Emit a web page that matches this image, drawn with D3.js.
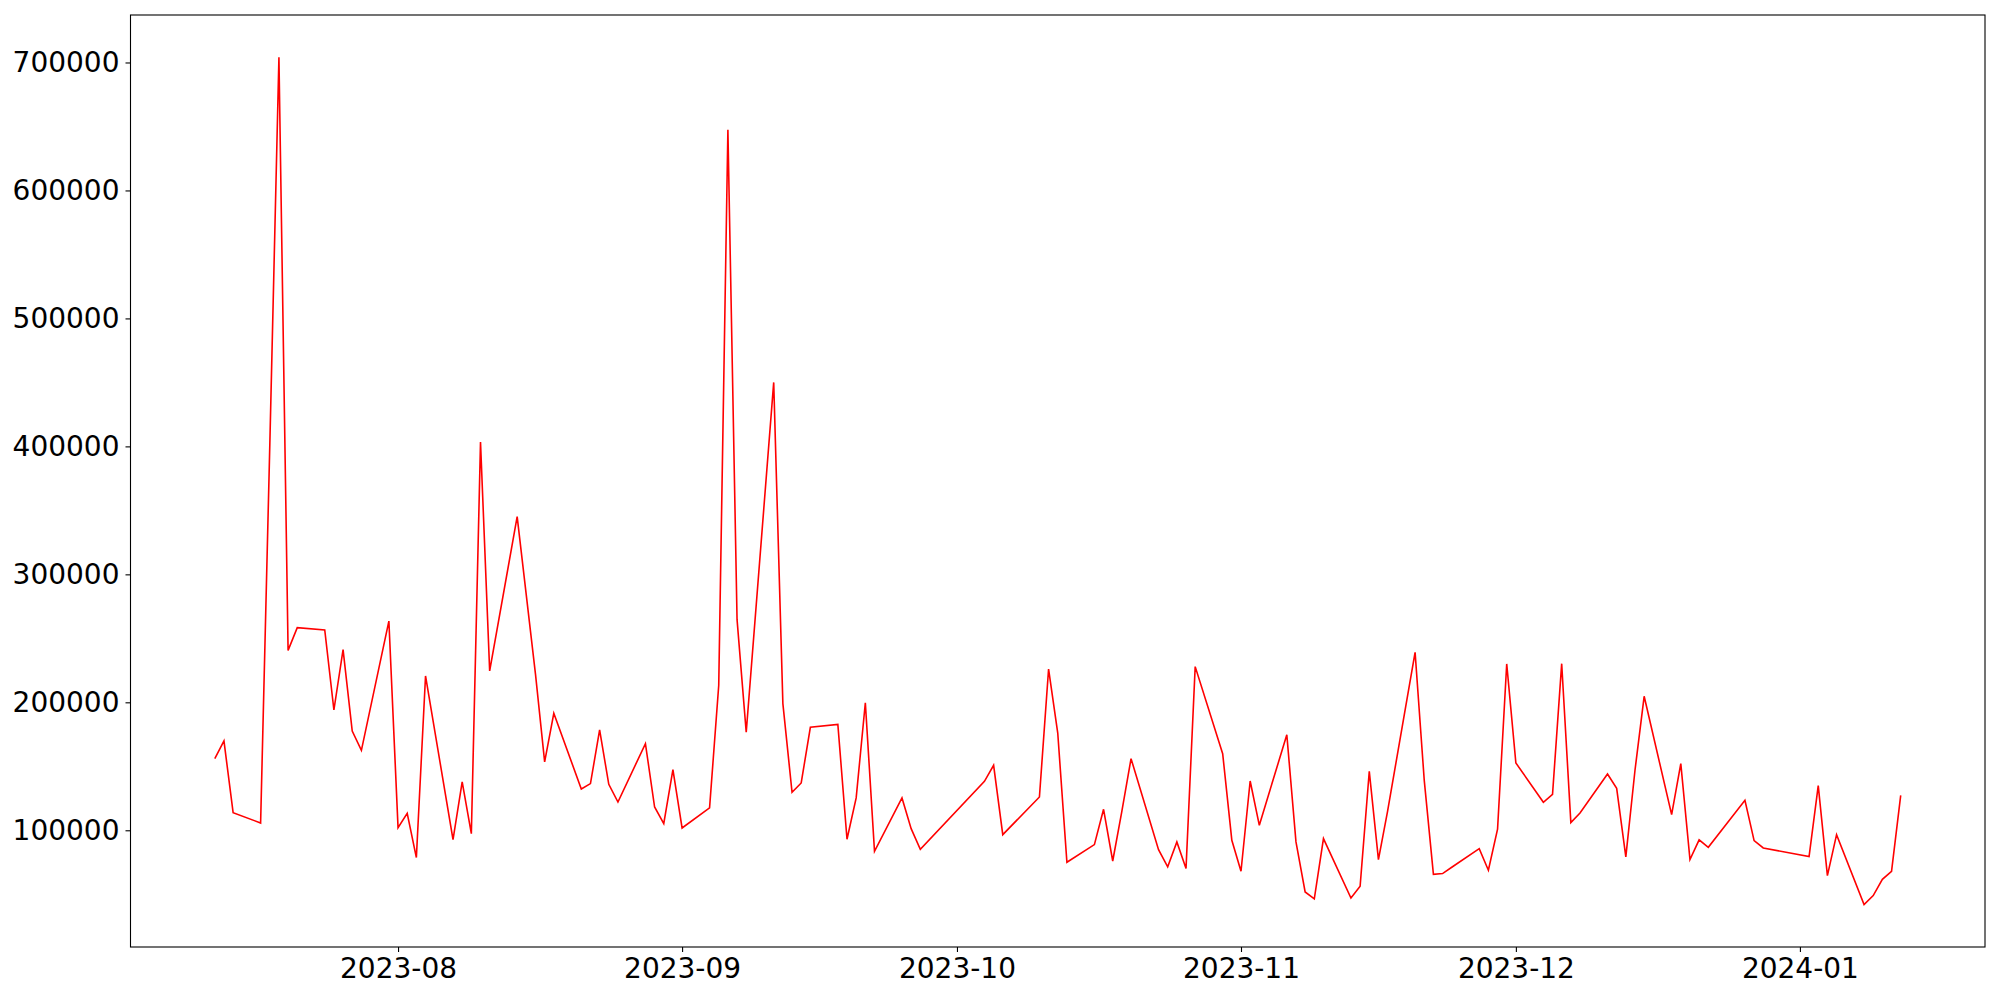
<!DOCTYPE html>
<html>
<head>
<meta charset="utf-8">
<script src="https://cdn.jsdelivr.net/npm/d3@7"></script>
<style>
  body { margin: 0; background: #fff; }
  svg { display: block; font-family: "DejaVu Sans", sans-serif; }
</style>
</head>
<body>
<svg width="2000" height="1000"></svg>
<script>
// trading days (KRX calendar) and daily values
var dates = [
  "2023-07-12","2023-07-13","2023-07-14","2023-07-17","2023-07-18","2023-07-19","2023-07-20","2023-07-21",
  "2023-07-24","2023-07-25","2023-07-26","2023-07-27","2023-07-28","2023-07-31","2023-08-01","2023-08-02",
  "2023-08-03","2023-08-04","2023-08-07","2023-08-08","2023-08-09","2023-08-10","2023-08-11","2023-08-14",
  "2023-08-16","2023-08-17","2023-08-18","2023-08-21","2023-08-22","2023-08-23","2023-08-24","2023-08-25",
  "2023-08-28","2023-08-29","2023-08-30","2023-08-31","2023-09-01","2023-09-04","2023-09-05","2023-09-06",
  "2023-09-07","2023-09-08","2023-09-11","2023-09-12","2023-09-13","2023-09-14","2023-09-15","2023-09-18",
  "2023-09-19","2023-09-20","2023-09-21","2023-09-22","2023-09-25","2023-09-26","2023-09-27","2023-10-04",
  "2023-10-05","2023-10-06","2023-10-10","2023-10-11","2023-10-12","2023-10-13","2023-10-16","2023-10-17",
  "2023-10-18","2023-10-19","2023-10-20","2023-10-23","2023-10-24","2023-10-25","2023-10-26","2023-10-27",
  "2023-10-30","2023-10-31","2023-11-01","2023-11-02","2023-11-03","2023-11-06","2023-11-07","2023-11-08",
  "2023-11-09","2023-11-10","2023-11-13","2023-11-14","2023-11-15","2023-11-16","2023-11-17","2023-11-20",
  "2023-11-21","2023-11-22","2023-11-23","2023-11-24","2023-11-27","2023-11-28","2023-11-29","2023-11-30",
  "2023-12-01","2023-12-04","2023-12-05","2023-12-06","2023-12-07","2023-12-08","2023-12-11","2023-12-12",
  "2023-12-13","2023-12-14","2023-12-15","2023-12-18","2023-12-19","2023-12-20","2023-12-21","2023-12-22",
  "2023-12-26","2023-12-27","2023-12-28","2024-01-02","2024-01-03","2024-01-04","2024-01-05","2024-01-08",
  "2024-01-09","2024-01-10","2024-01-11","2024-01-12"
];

var values = [
  156000,169800,113800,105700,400000,704000,240600,258300,
  256500,194000,241200,177600,162500,263500,102100,113300,
  78700,220600,92700,137800,97400,403400,224500,345100,
  222000,153400,191400,132300,136500,178400,135900,122100,
  167700,118200,105200,147400,101800,117500,213300,647500,
  264600,176600,450000,199000,129700,137000,180500,182800,
  93000,125300,199700,83600,125300,101300,85200,138300,
  150800,96600,126000,226000,176000,75000,88800,116400,
  76000,115000,156000,84900,71400,90900,70100,227900,
  159900,92200,68000,138500,103900,174700,90900,51800,
  46400,93500,47100,56300,146100,77100,115000,239100,
  139000,65600,66200,71100,85700,68800,100800,230000,
  152600,121900,128100,230200,106000,113500,144000,132800,
  79200,146900,204700,112200,152100,77100,92500,86700,
  123400,91900,86200,79400,134900,64600,96600,41900,
  49000,61700,68000,127300
];

var yTicks = [100000, 200000, 300000, 400000, 500000, 600000, 700000];
var xTicks = ["2023-08-01","2023-09-01","2023-10-01","2023-11-01","2023-12-01","2024-01-01"];

var parse = d3.timeParse("%Y-%m-%d");
var data = dates.map(function(d, i) { return {date: parse(d), value: values[i]}; });

var plotLeft = 130.5, plotRight = 1985, plotTop = 15, plotBottom = 947;

// matplotlib style 5% margins
var tExt = d3.extent(data, function(d) { return +d.date; });
var tPad = (tExt[1] - tExt[0]) * 0.05;
var vExt = d3.extent(values);
var vPad = (vExt[1] - vExt[0]) * 0.05;

var x = d3.scaleTime()
    .domain([new Date(tExt[0] - tPad), new Date(tExt[1] + tPad)])
    .range([plotLeft, plotRight]);

var y = d3.scaleLinear()
    .domain([vExt[0] - vPad, vExt[1] + vPad])
    .range([plotBottom, plotTop]);

var svg = d3.select("svg");

svg.append("rect")
    .attr("width", 2000)
    .attr("height", 1000)
    .attr("fill", "#fff");

var line = d3.line()
    .x(function(d) { return x(d.date); })
    .y(function(d) { return y(d.value); });

svg.append("path")
    .datum(data)
    .attr("fill", "none")
    .attr("stroke", "#ff0000")
    .attr("stroke-width", 1.6)
    .attr("stroke-linejoin", "miter")
    .attr("d", line);

var xAxis = svg.append("g")
    .attr("transform", "translate(0," + plotBottom + ")")
    .call(d3.axisBottom(x)
        .tickValues(xTicks.map(parse))
        .tickFormat(d3.timeFormat("%Y-%m"))
        .tickSize(5)
        .tickPadding(6)
        .tickSizeOuter(0));

var yAxis = svg.append("g")
    .attr("transform", "translate(" + plotLeft + ",0)")
    .call(d3.axisLeft(y)
        .tickValues(yTicks)
        .tickFormat(d3.format("d"))
        .tickSize(5)
        .tickPadding(6)
        .tickSizeOuter(0));

[xAxis, yAxis].forEach(function(g) {
  g.select(".domain").remove();
  g.selectAll("line").attr("stroke", "#000").attr("stroke-width", 1.1);
  g.selectAll("text")
      .attr("fill", "#000")
      .style("font-family", "'DejaVu Sans', sans-serif")
      .style("font-size", "28px");
});

svg.append("rect")
    .attr("x", plotLeft)
    .attr("y", plotTop)
    .attr("width", plotRight - plotLeft)
    .attr("height", plotBottom - plotTop)
    .attr("fill", "none")
    .attr("stroke", "#000")
    .attr("stroke-width", 1.1);
</script>
</body>
</html>
